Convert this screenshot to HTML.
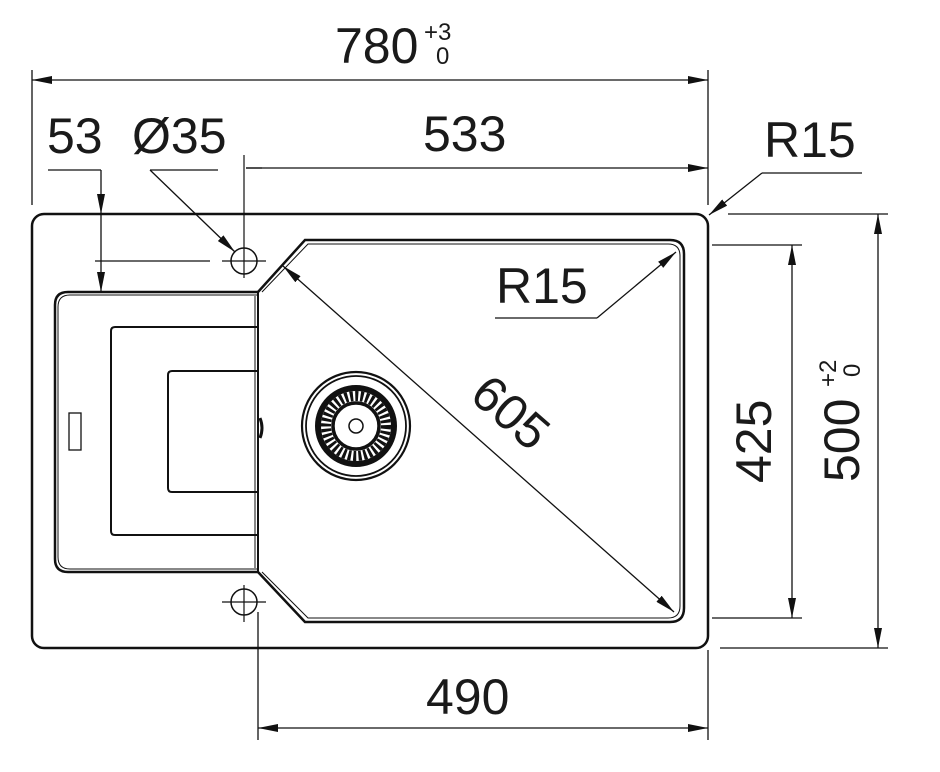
<!DOCTYPE html>
<html><head><style>body{margin:0;background:#fff}svg{display:block}text{font-family:"Liberation Sans",Arial,sans-serif;fill:#1a1a1a}</style></head>
<body>
<svg width="940" height="772" viewBox="0 0 940 772" xmlns="http://www.w3.org/2000/svg">
<defs>
<marker id="a" viewBox="0 0 20 8" refX="20" refY="4" markerWidth="20" markerHeight="8" markerUnits="userSpaceOnUse" orient="auto-start-reverse"><path d="M0,0L20,4L0,8z" fill="#111"/></marker>
</defs>
<g stroke="#111" fill="none">
<rect x="32" y="214" width="676" height="434" rx="12" stroke-width="2.5"/>
<path d="M258,292 H68 Q55,292 55,305 V559 Q55,572 68,572 H258" stroke-width="2.5"/>
<path d="M258,295 H70 Q58,295 58,307 V557 Q58,569 70,569 H258" stroke-width="1"/>
<line x1="258" y1="292" x2="258" y2="572" stroke-width="2"/>
<line x1="255" y1="296" x2="255" y2="568" stroke-width="1"/>
<path d="M257,327 H115 Q111,327 111,331 V531 Q111,535 115,535 H257" stroke-width="2"/>
<path d="M257,371 H172 Q168,371 168,375 V488 Q168,492 172,492 H257" stroke-width="2"/>
<rect x="69" y="413" width="12" height="37" stroke-width="1.3"/>
<path d="M260,418 Q264,428 260,438" stroke-width="3"/>
<path d="M258,292 L305,240 H670 Q684,240 684,254 V608 Q684,622 670,622 H305 L258,572" stroke-width="2.5"/>
<path d="M262,292 L308,244 H668 Q680,244 680,256 V606 Q680,618 668,618 H308 L262,572" stroke-width="1"/>
<circle cx="244" cy="261" r="13" stroke-width="1.5"/>
<line x1="222" y1="261" x2="266" y2="261" stroke-width="1.2"/>
<line x1="244" y1="155" x2="244" y2="278" stroke-width="1.2"/>
<circle cx="244" cy="602" r="13" stroke-width="1.5"/>
<line x1="222" y1="602" x2="266" y2="602" stroke-width="1.2"/>
<line x1="244" y1="585" x2="244" y2="622" stroke-width="1.2"/>
<circle cx="356" cy="426" r="54" stroke-width="2.2"/>
<circle cx="356" cy="426" r="50" stroke-width="1.8"/>
<circle cx="356" cy="426" r="38" stroke-width="6"/>
<circle cx="356" cy="426" r="30" stroke-width="10" stroke-dasharray="3 2.2"/>
<circle cx="356" cy="426" r="23" stroke-width="3.5"/>
<circle cx="356" cy="426" r="7" stroke-width="1.5"/>
<g stroke-width="1.3">
<line x1="32" y1="70" x2="32" y2="205"/><line x1="708" y1="70" x2="708" y2="205"/>
<line x1="32" y1="80" x2="708" y2="80" marker-start="url(#a)" marker-end="url(#a)"/>
<line x1="246" y1="168" x2="708" y2="168" marker-end="url(#a)"/>
<line x1="246" y1="168" x2="262" y2="168"/>
<line x1="48" y1="170" x2="101" y2="170"/>
<line x1="101" y1="170" x2="101" y2="214" marker-end="url(#a)"/>
<line x1="101" y1="261" x2="101" y2="292" marker-end="url(#a)"/>
<line x1="101" y1="214" x2="101" y2="261"/>
<line x1="95" y1="261" x2="210" y2="261"/>
<line x1="150" y1="170" x2="218" y2="170"/>
<line x1="150" y1="170" x2="235" y2="252" marker-end="url(#a)"/>
<line x1="762" y1="173" x2="862" y2="173"/>
<line x1="762" y1="173" x2="709" y2="215" marker-end="url(#a)"/>
<line x1="495" y1="318" x2="597" y2="318"/>
<line x1="597" y1="318" x2="676" y2="252" marker-end="url(#a)"/>
<line x1="283" y1="266" x2="674" y2="612" marker-start="url(#a)" marker-end="url(#a)"/>
<line x1="712" y1="245" x2="802" y2="245"/><line x1="712" y1="618" x2="802" y2="618"/>
<line x1="792" y1="245" x2="792" y2="618" marker-start="url(#a)" marker-end="url(#a)"/>
<line x1="728" y1="214" x2="888" y2="214"/><line x1="720" y1="648" x2="888" y2="648"/>
<line x1="878" y1="214" x2="878" y2="648" marker-start="url(#a)" marker-end="url(#a)"/>
<line x1="258" y1="612" x2="258" y2="740"/><line x1="708" y1="650" x2="708" y2="740"/>
<line x1="258" y1="728" x2="708" y2="728" marker-start="url(#a)" marker-end="url(#a)"/>
</g>
</g>
<g font-size="50">
<text x="335" y="63">780</text>
<text x="424" y="40" font-size="24">+3</text>
<text x="436" y="64" font-size="24">0</text>
<text x="47" y="153">53</text>
<text x="132" y="153">Ø35</text>
<text x="423" y="151">533</text>
<text x="764" y="157">R15</text>
<text x="496" y="303">R15</text>
<text x="0" y="0" transform="translate(468,398) rotate(41)">605</text>
<text x="0" y="0" transform="translate(771,483) rotate(-90)">425</text>
<text x="0" y="0" transform="translate(859,482) rotate(-90)">500</text>
<text x="0" y="0" font-size="24" transform="translate(836,387) rotate(-90)">+2</text>
<text x="0" y="0" font-size="24" transform="translate(860,377) rotate(-90)">0</text>
<text x="426" y="714">490</text>
</g>
</svg>
</body></html>
